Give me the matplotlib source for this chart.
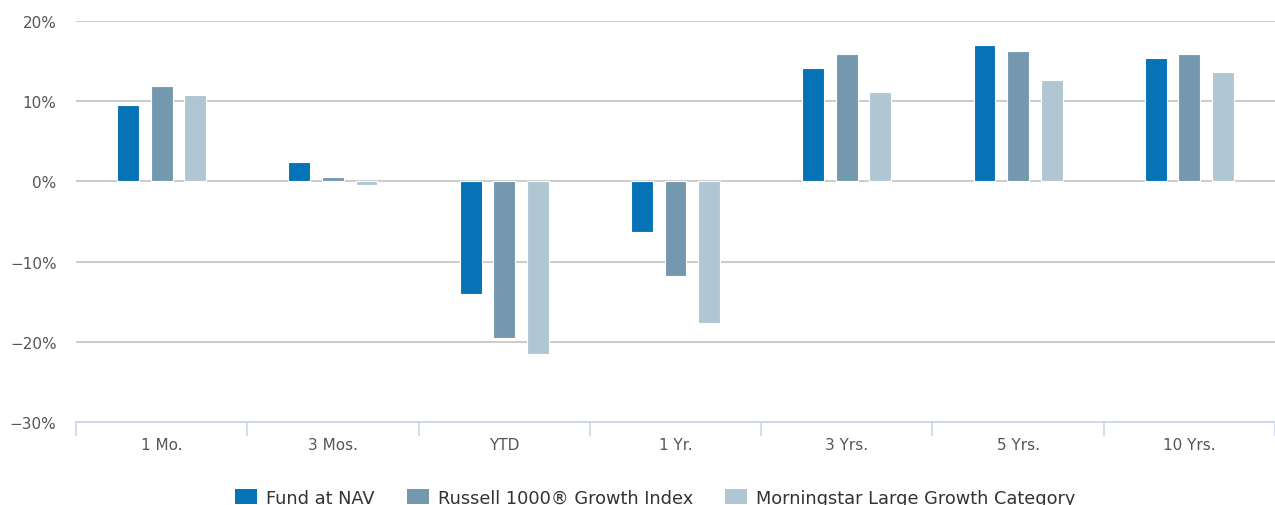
import matplotlib
matplotlib.use("Agg")
import matplotlib.pyplot as plt
import numpy as np
from matplotlib.patches import Patch

plt.rcParams['font.family'] = ['DejaVu Sans']

categories = ["1 Mo.", "3 Mos.", "YTD", "1 Yr.", "3 Yrs.", "5 Yrs.", "10 Yrs."]
fund = [9.5, 2.4, -14.0, -6.3, 14.1, 17.0, 15.4]
russell = [11.9, 0.6, -19.5, -11.8, 15.9, 16.2, 15.9]
morningstar = [10.8, -0.5, -21.5, -17.6, 11.2, 12.6, 13.7]
series_names = ["Fund at NAV", "Russell 1000\u00ae Growth Index", "Morningstar Large Growth Category"]
colors = ["#0673b7", "#7499ae", "#b0c7d3"]
yticks = [-30, -20, -10, 0, 10, 20]

fig = plt.figure(figsize=(12.75, 5.06), dpi=100)
ax = fig.add_axes([76/1275, 1 - 423/506, 1 - 76/1275, (423 - 22)/506])

x = np.arange(len(categories))
width = 0.127
step = 0.196
for i, (vals, c) in enumerate(zip([fund, russell, morningstar], colors)):
    ax.bar(x + (i - 1) * step, vals, width=width, color=c, edgecolor="white",
           linewidth=0.8, zorder=3)

ax.set_xlim(-0.5, len(categories) - 0.5)
ax.set_ylim(-30, 20)
ax.set_yticks(yticks)
ax.set_yticklabels([f"{v}%".replace("-", "\u2212") for v in yticks])
ax.grid(axis="y", color="#c8c8c8", linewidth=1.3, zorder=0)
ax.set_axisbelow(True)

for s in ["top", "right", "left"]:
    ax.spines[s].set_visible(False)
ax.spines["bottom"].set_color("#ccd6eb")
ax.spines["bottom"].set_linewidth(1.2)

ax.tick_params(axis="y", length=0, pad=14, labelsize=11, labelcolor="#555555")
ax.set_xticks(x)
ax.set_xticklabels(categories)
ax.tick_params(axis="x", length=0, pad=11, labelsize=11, labelcolor="#555555")
# category boundary ticks
ax.set_xticks(np.arange(len(categories) + 1) - 0.5, minor=True)
ax.tick_params(axis="x", which="minor", length=10, color="#ccd6eb", width=1.2)

handles = [Patch(facecolor=c, edgecolor="none") for c in colors]
fig.legend(handles, series_names, loc="center", bbox_to_anchor=(0.5 + 18/1275, 1 - 499/506),
           ncol=3, frameon=False, fontsize=12.8, labelcolor="#333333",
           handlelength=1.25, handleheight=0.9, columnspacing=1.8, handletextpad=0.5)

fig.savefig("out.png", dpi=100)
